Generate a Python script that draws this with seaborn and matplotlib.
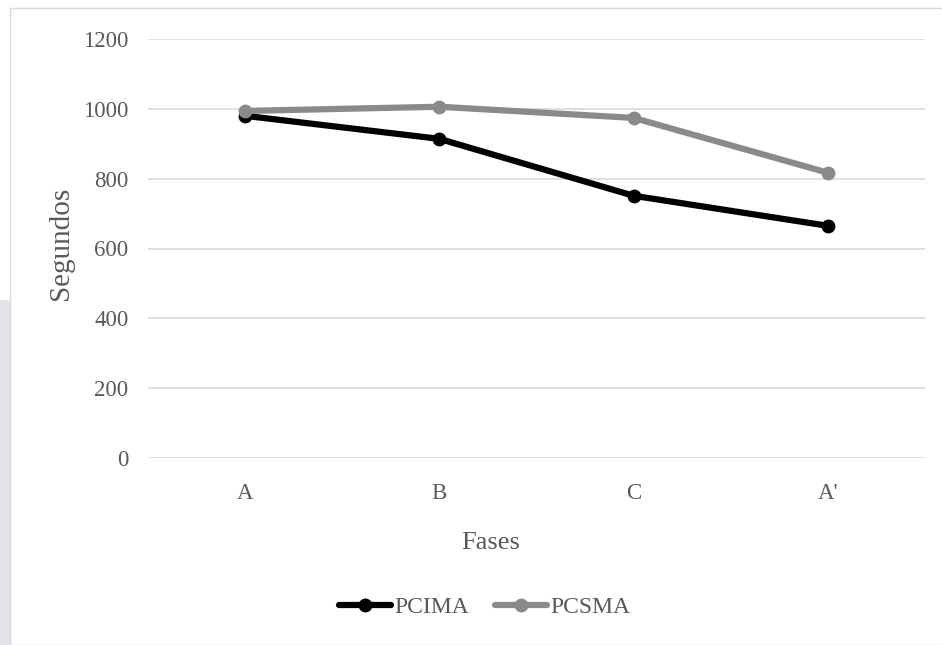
import matplotlib
matplotlib.use("Agg")
import matplotlib.pyplot as plt
import seaborn as sns
import pandas as pd
from matplotlib.patches import Rectangle
from matplotlib.lines import Line2D

fases = ["A", "B", "C", "A'"]
pcima = [980, 914, 751, 665]
pcsma = [994, 1006, 974, 817]
yticks = [0, 200, 400, 600, 800, 1000, 1200]

df = pd.DataFrame({
    "Fases": fases * 2,
    "Segundos": pcima + pcsma,
    "Serie": ["PCIMA"] * 4 + ["PCSMA"] * 4,
})

sns.set_theme(style="white")
plt.rcParams["font.family"] = ["Liberation Serif", "DejaVu Serif"]

W, H = 942, 645
fig = plt.figure(figsize=(W / 100, H / 100), dpi=100)
ax = fig.add_axes([148 / W, 1 - 458 / H, (925 - 148) / W, (458 - 39) / H])

palette = {"PCIMA": "#000000", "PCSMA": "#8a8a8a"}
sns.lineplot(data=df, x="Fases", y="Segundos", hue="Serie", palette=palette,
             marker="o", markersize=10, linewidth=4.5, markeredgewidth=0,
             sort=False, ax=ax, legend=False)

ax.set_xlim(-0.5, 3.5)
ax.set_ylim(0, 1200)
ax.set_yticks(yticks)
ax.set_yticklabels([str(t) for t in yticks])
ax.yaxis.grid(True, color="#d9d9d9", linewidth=1.2)
ax.set_axisbelow(True)
for s in ax.spines.values():
    s.set_visible(False)
ax.tick_params(axis="both", length=0, labelsize=16.5, labelcolor="#595959")
ax.tick_params(axis="y", pad=14)
ax.tick_params(axis="x", pad=18)

ax.set_xlabel("Fases", fontsize=19, color="#595959")
ax.set_ylabel("Segundos", fontsize=21, color="#595959")
ax.xaxis.set_label_coords((491 - 148) / (925 - 148), -(543 - 458) / (458 - 39))
ax.yaxis.set_label_coords(-(148 - 61) / (925 - 148), (458 - 243) / (458 - 39))
ax.xaxis.label.set_va("center")
ax.yaxis.label.set_va("center")

handles = [Line2D([], [], color=palette[k], linewidth=4.5, marker="o",
                  markersize=10, markeredgewidth=0) for k in ["PCIMA", "PCSMA"]]
fig.legend(handles, ["PCIMA", "PCSMA"], loc="center",
           bbox_to_anchor=(485 / W, 1 - 607 / H),
           ncol=2, frameon=False, fontsize=17, labelcolor="#595959",
           handlelength=2.2, handletextpad=0.15, columnspacing=1.1)

# outer frame and side strip
fig.add_artist(Rectangle((10 / W, 0), 1, 1 - 8 / H, transform=fig.transFigure,
                         fill=False, edgecolor="#d9d9d9", linewidth=1))
fig.add_artist(Rectangle((0, 0), 10 / W, 1 - 300 / H, transform=fig.transFigure,
                         facecolor="#e3e3ea", edgecolor="none"))

fig.savefig("out.png", dpi=100)
